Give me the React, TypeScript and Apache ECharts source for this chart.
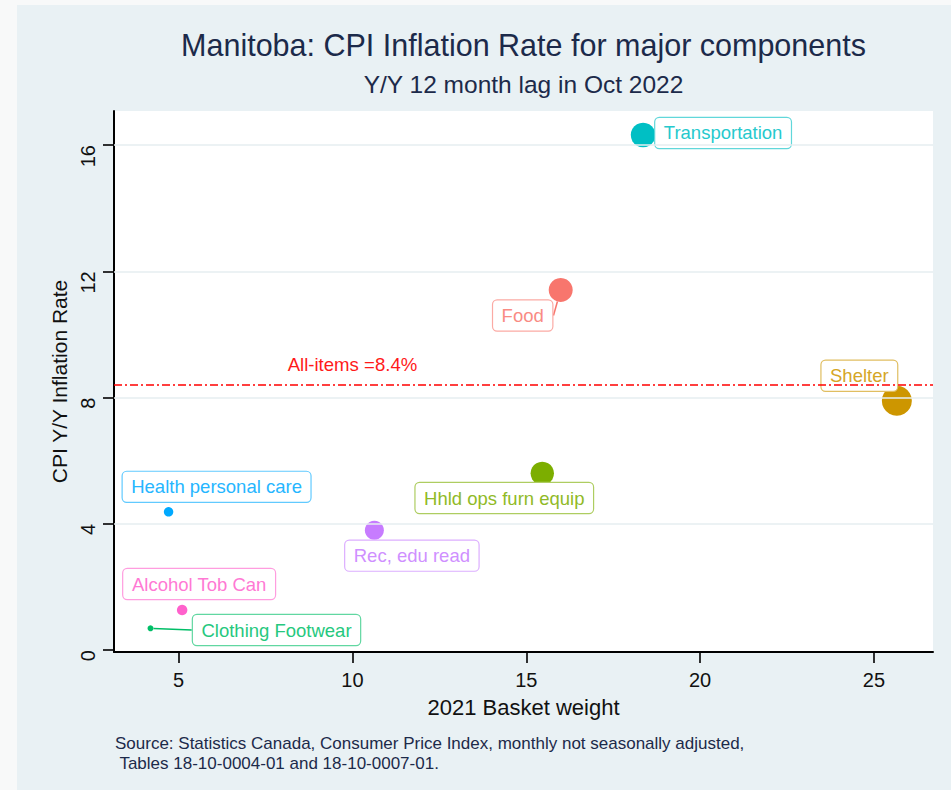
import React, { useEffect, useRef } from 'react';
import * as echarts from 'echarts';

// ---------- data ----------
const categories = [
  'Transportation',
  'Food',
  'Shelter',
  'Hhld ops furn equip',
  'Rec, edu read',
  'Health personal care',
  'Alcohol Tob Can',
  'Clothing Footwear',
];
const basketWeight = [18.36, 15.99, 25.66, 15.46, 10.63, 4.71, 5.1, 4.19];
const inflationRate = [16.32, 11.41, 7.9, 5.6, 3.8, 4.38, 1.27, 0.69];
const allItemsRate = 8.4;
const xTicks = [5, 10, 15, 20, 25];
const yTicks = [0, 4, 8, 12, 16];
const titleText = 'Manitoba: CPI Inflation Rate for major components';
const subtitleText = 'Y/Y 12 month lag in Oct 2022';
const xName = '2021 Basket weight';
const yName = 'CPI Y/Y Inflation Rate';
const sourceLines = [
  'Source: Statistics Canada, Consumer Price Index, monthly not seasonally adjusted,',
  ' Tables 18-10-0004-01 and 18-10-0007-01.',
];

// ---------- styles ----------
const FONT = "'Liberation Sans', Arial, Helvetica, sans-serif";
const NAVY = '#1c2a4a';
const COLORS: Record<string, string> = {
  'Transportation': '#00BFC4',
  'Food': '#F8766D',
  'Shelter': '#CD9600',
  'Hhld ops furn equip': '#7CAE00',
  'Rec, edu read': '#C77CFF',
  'Health personal care': '#00A9FF',
  'Alcohol Tob Can': '#FF61CC',
  'Clothing Footwear': '#00BE67',
};
const MARKER: Record<string, number> = {
  'Transportation': 24.6,
  'Food': 24,
  'Shelter': 30,
  'Hhld ops furn equip': 23.4,
  'Rec, edu read': 19,
  'Health personal care': 9.5,
  'Alcohol Tob Can': 10.5,
  'Clothing Footwear': 6,
};
// label box centre shift from the marker centre (px)
const LABEL_SHIFT: Record<string, [number, number]> = {
  'Transportation': [80, -2],
  'Food': [-38, 25.5],
  'Shelter': [-37.5, -25],
  'Hhld ops furn equip': [-38, 24.7],
  'Rec, edu read': [37.5, 25.5],
  'Health personal care': [48, -25],
  'Alcohol Tob Can': [17, -26],
  'Clothing Footwear': [126, 1.7],
};
const WITH_SEGMENT = new Set(['Food', 'Clothing Footwear']);

function tint(hex: string, t: number): string {
  const n = parseInt(hex.slice(1), 16);
  const r = (n >> 16) & 255;
  const g = (n >> 8) & 255;
  const b = n & 255;
  const m = (c: number) => Math.round(c + (255 - c) * t);
  return `rgb(${m(r)},${m(g)},${m(b)})`;
}

export default function App() {
  const ref = useRef<HTMLDivElement>(null);

  useEffect(() => {
    if (!ref.current) return;
    const chart = echarts.init(ref.current, null, { renderer: 'svg' });

    const points = categories.map((c, i) => {
      const col = COLORS[c];
      return {
        name: c,
        value: [basketWeight[i], inflationRate[i]],
        symbolSize: MARKER[c],
        itemStyle: { color: col, opacity: 1 },
        label: {
          color: tint(col, 0.15),
          borderColor: tint(col, 0.38),
        },
        labelLine: {
          show: WITH_SEGMENT.has(c),
          lineStyle: { color: col, width: 1.5 },
        },
      };
    });

    const gridLines = yTicks
      .filter((v) => v !== 0)
      .map((v) => ({
        yAxis: v,
        lineStyle: { color: '#e6eef1', width: 1.6, type: 'solid' },
      }));

    chart.setOption({
      animation: false,
      backgroundColor: '#e9f1f4',
      textStyle: { fontFamily: FONT },
      graphic: [
        { type: 'rect', shape: { x: 0, y: 0, width: 17, height: 790 }, style: { fill: '#f8f9f9' }, z: 0 },
        { type: 'rect', shape: { x: 0, y: 0, width: 951, height: 5 }, style: { fill: '#f8f9f9' }, z: 0 },
        {
          type: 'text',
          x: 523.5,
          y: 45,
          style: { text: titleText, fill: NAVY, font: `30.5px ${FONT}`, align: 'center', verticalAlign: 'middle' },
        },
        {
          type: 'text',
          x: 523.5,
          y: 84,
          style: { text: subtitleText, fill: NAVY, font: `24.5px ${FONT}`, align: 'center', verticalAlign: 'middle' },
        },
        ...sourceLines.map((t, i) => ({
          type: 'text',
          x: 115,
          y: 743 + i * 20,
          style: { text: t, fill: NAVY, font: `17px ${FONT}`, align: 'left', verticalAlign: 'middle' },
        })),
      ],
      grid: {
        left: 114,
        right: 18,
        top: 111,
        bottom: 138,
        show: true,
        backgroundColor: '#ffffff',
        borderWidth: 0,
      },
      xAxis: {
        type: 'value',
        min: 3.14,
        max: 26.7,
        name: xName,
        nameLocation: 'middle',
        nameGap: 44,
        nameTextStyle: { fontSize: 22, color: '#111', fontFamily: FONT },
        axisLine: { show: true, onZero: false, lineStyle: { color: '#000', width: 2 } },
        axisTick: { show: true, inside: false, length: 11, customValues: xTicks, lineStyle: { color: '#000', width: 1.6 } },
        axisLabel: { customValues: xTicks, fontSize: 20, color: '#111', margin: 18, fontFamily: FONT },
        splitLine: { show: false },
      },
      yAxis: {
        type: 'value',
        min: -0.06,
        max: 17.08,
        name: yName,
        nameLocation: 'middle',
        nameGap: 40,
        nameTextStyle: { fontSize: 21, color: '#111', fontFamily: FONT },
        axisLine: { show: true, onZero: false, lineStyle: { color: '#000', width: 2 } },
        axisTick: { show: true, inside: false, length: 11, customValues: yTicks, lineStyle: { color: '#000', width: 1.6 } },
        axisLabel: {
          customValues: yTicks,
          rotate: 90,
          align: 'right',
          verticalAlign: 'bottom',
          fontSize: 20,
          color: '#111',
          margin: 16,
          fontFamily: FONT,
        },
        splitLine: { show: false },
      },
      series: [
        {
          type: 'line',
          data: [],
          z: 1,
          silent: true,
          markLine: {
            silent: true,
            symbol: ['none', 'none'],
            label: { show: false },
            data: [
              ...gridLines,
              {
                yAxis: allItemsRate,
                lineStyle: { color: '#ff0000', width: 1.6, type: [8, 3, 2, 3] },
              },
            ],
          },
          markPoint: {
            silent: true,
            symbol: 'circle',
            symbolSize: 0,
            label: {
              show: true,
              position: 'inside',
              offset: [0, -20],
              formatter: `All-items =${allItemsRate}%`,
              color: '#ff1a1a',
              fontSize: 18.6,
              fontFamily: FONT,
            },
            data: [{ coord: [10, allItemsRate] }],
          },
        },
        {
          type: 'scatter',
          z: 3,
          data: points,
          label: {
            show: true,
            position: 'inside',
            formatter: '{b}',
            fontSize: 18.5,
            lineHeight: 20,
            fontFamily: FONT,
            backgroundColor: '#ffffff',
            borderWidth: 1.2,
            borderRadius: 4,
            padding: [5, 8.5],
          },
          labelLayout: (params: any) => {
            const s = LABEL_SHIFT[categories[params.dataIndex]];
            return { dx: s[0], dy: s[1] };
          },
          emphasis: { disabled: true },
        },
      ],
    });

    return () => chart.dispose();
  }, []);

  return (
    <div
      ref={ref}
      style={{ position: 'absolute', left: 0, top: 0, width: 951, height: 790 }}
    />
  );
}
